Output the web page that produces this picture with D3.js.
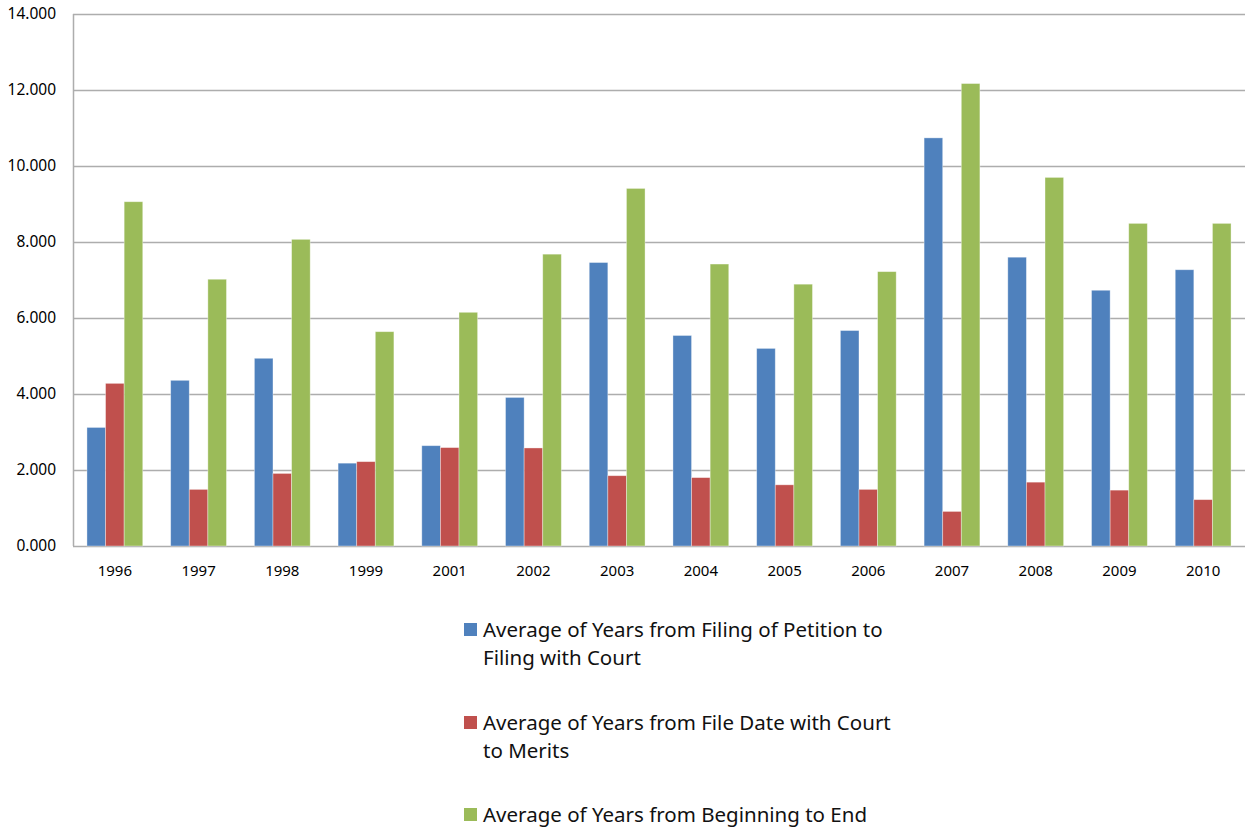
<!DOCTYPE html>
<html>
<head>
<meta charset="utf-8">
<script src="https://cdn.jsdelivr.net/npm/d3@7"></script>
<style>
  body { margin: 0; background: #fff; }
  svg { display: block; font-family: "Noto Sans", "Liberation Sans", Arial, sans-serif; }
</style>
</head>
<body>
<div id="chart"></div>
<script>
// Chart data
var years = ["1996", "1997", "1998", "1999", "2001", "2002", "2003", "2004", "2005", "2006", "2007", "2008", "2009", "2010"];
var petitionToCourt = [3.12, 4.36, 4.94, 2.18, 2.64, 3.91, 7.46, 5.54, 5.20, 5.67, 10.74, 7.60, 6.73, 7.27];
var courtToMerits = [4.28, 1.49, 1.91, 2.22, 2.59, 2.58, 1.85, 1.80, 1.61, 1.49, 0.91, 1.68, 1.47, 1.22];
var beginningToEnd = [9.06, 7.02, 8.07, 5.64, 6.15, 7.68, 9.41, 7.42, 6.89, 7.22, 12.17, 9.70, 8.49, 8.49];
var yTicks = [0, 2, 4, 6, 8, 10, 12, 14];
var seriesNames = [
    ["Average of Years from Filing of Petition to", "Filing with Court"],
    ["Average of Years from File Date with Court", "to Merits"],
    ["Average of Years from Beginning to End"]
];
var colors = ["#4F81BD", "#C0504D", "#9BBB59"];

var series = [petitionToCourt, courtToMerits, beginningToEnd];

var W = 1247, H = 831;
var margin = { top: 14, right: 2, bottom: 285, left: 73 };
var width = W - margin.left - margin.right,
    height = H - margin.top - margin.bottom;

var svg = d3.select("#chart").append("svg")
    .attr("width", W)
    .attr("height", H);

var g = svg.append("g")
    .attr("transform", "translate(" + margin.left + "," + margin.top + ")");

// Scales
var x0 = d3.scaleBand().domain(years).range([0, width]).paddingInner(1 / 3).paddingOuter(1 / 6);
var x1 = d3.scaleBand().domain([0, 1, 2]).range([0, x0.bandwidth()]);
var y = d3.scaleLinear().domain([0, 14]).range([height, 0]);

// Gridlines
g.append("g").selectAll("line")
    .data(yTicks)
    .enter().append("line")
    .attr("x1", 0)
    .attr("x2", width)
    .attr("y1", function(d) { return Math.round(y(d)) + 0.5; })
    .attr("y2", function(d) { return Math.round(y(d)) + 0.5; })
    .style("stroke", "#adadad")
    .style("stroke-width", 1.5);

// Left axis line
g.append("line")
    .attr("x1", 0.5).attr("x2", 0.5)
    .attr("y1", y(14)).attr("y2", y(0))
    .style("stroke", "#adadad")
    .style("stroke-width", 1.5);

// Y labels
var yAxis = g.append("g")
    .call(d3.axisLeft(y).tickValues(yTicks).tickSize(0).tickPadding(17)
        .tickFormat(function(d) { return d3.format(".3f")(d); }));
yAxis.select(".domain").remove();
yAxis.selectAll("text")
    .style("font-size", "15.5px")
    .style("fill", "#000")
    .style("font-family", "'Noto Sans', sans-serif");

// X labels
var xAxis = g.append("g")
    .attr("transform", "translate(0," + height + ")")
    .call(d3.axisBottom(x0).tickSize(0).tickPadding(19));
xAxis.select(".domain").remove();
xAxis.selectAll("text")
    .style("font-size", "15px")
    .style("fill", "#000")
    .style("font-family", "'Noto Sans', sans-serif");

// Bars
var groups = g.append("g").selectAll("g")
    .data(years)
    .enter().append("g")
    .attr("transform", function(d) { return "translate(" + x0(d) + ",0)"; });

groups.selectAll("rect")
    .data(function(d, i) { return series.map(function(s, k) { return { k: k, v: s[i] }; }); })
    .enter().append("rect")
    .attr("x", function(d) { return x1(d.k); })
    .attr("width", x1.bandwidth())
    .attr("y", function(d) { return y(d.v); })
    .attr("height", function(d) { return y(0) - y(d.v); })
    .style("fill", function(d) { return colors[d.k]; })
    .style("stroke", "#ffffff")
    .style("stroke-opacity", 0.45)
    .style("stroke-width", 0.8);

// Legend
var legendTops = [637, 730, 822];
var legend = svg.append("g");
seriesNames.forEach(function(lines, i) {
    var base = legendTops[i];
    legend.append("rect")
        .attr("x", 464)
        .attr("y", base - 14)
        .attr("width", 13)
        .attr("height", 13)
        .style("fill", colors[i]);
    var t = legend.append("text")
        .attr("x", 483)
        .attr("y", base)
        .style("font-size", "20.5px")
        .style("fill", "#111");
    lines.forEach(function(line, j) {
        t.append("tspan")
            .attr("x", 483)
            .attr("dy", j === 0 ? 0 : 28)
            .text(line);
    });
});
</script>
</body>
</html>
